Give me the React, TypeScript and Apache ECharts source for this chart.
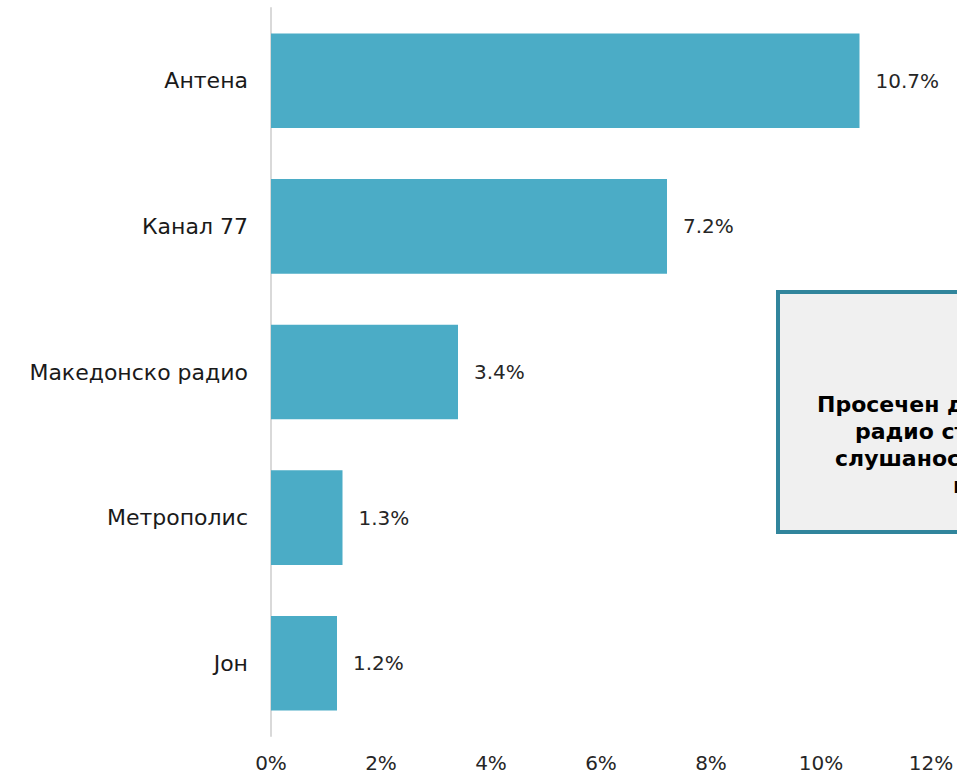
import React, { useEffect, useRef } from "react";
import * as echarts from "echarts";

const categories = ["Антена", "Канал 77", "Македонско радио", "Метрополис", "Јон"];
const values = [10.7, 7.2, 3.4, 1.3, 1.2];
const boxLines = ["Просечен дневен досег на", "радио станиците", "слушаност (вчера)", "на"];
const boxLineStarts = [817, 855, 835, 953];

export default function App() {
  const ref = useRef<HTMLDivElement>(null);
  useEffect(() => {
    if (!ref.current) return;
    const chart = echarts.init(ref.current, null, { renderer: "svg" });
    const font = "'DejaVu Sans', sans-serif";
    chart.setOption({
      animation: false,
      grid: { left: 271, right: 26, top: 8, bottom: 41, containLabel: false },
      xAxis: {
        type: "value",
        min: 0,
        max: 12,
        interval: 2,
        axisLine: { show: false },
        axisTick: { show: false },
        splitLine: { show: false },
        axisLabel: {
          formatter: "{value}%",
          color: "#262626",
          fontSize: 20,
          fontFamily: font,
          margin: 17,
        },
      },
      yAxis: {
        type: "category",
        data: categories,
        inverse: true,
        axisLine: { show: true, lineStyle: { color: "#d9d9d9", width: 2 } },
        axisTick: { show: false },
        axisLabel: { color: "#1a1a1a", fontSize: 22, fontFamily: font, margin: 23 },
      },
      series: [
        {
          type: "bar",
          data: values,
          barCategoryGap: "35%",
          itemStyle: { color: "#4bacc6" },
          label: {
            show: true,
            position: "right",
            distance: 16,
            formatter: (p: any) => p.value.toFixed(1) + "%",
            color: "#262626",
            fontSize: 20,
            fontFamily: font,
          },
        },
      ],
      graphic: [
        {
          type: "rect",
          shape: { x: 778, y: 292, width: 260, height: 240 },
          style: { fill: "#f0f0f0", stroke: "#31859c", lineWidth: 4 },
          z: 10,
        },
        ...boxLines.map((t, i) => ({
          type: "text",
          x: boxLineStarts[i],
          y: 404 + i * 27,
          z: 11,
          style: {
            text: t,
            fill: "#000000",
            font: "bold 22px 'DejaVu Sans', sans-serif",
            textAlign: "left",
            textVerticalAlign: "middle",
          },
        })),
      ],
    });
    return () => chart.dispose();
  }, []);
  return <div ref={ref} style={{ width: 957, height: 777, position: "absolute", left: 0, top: 0 }} />;
}
